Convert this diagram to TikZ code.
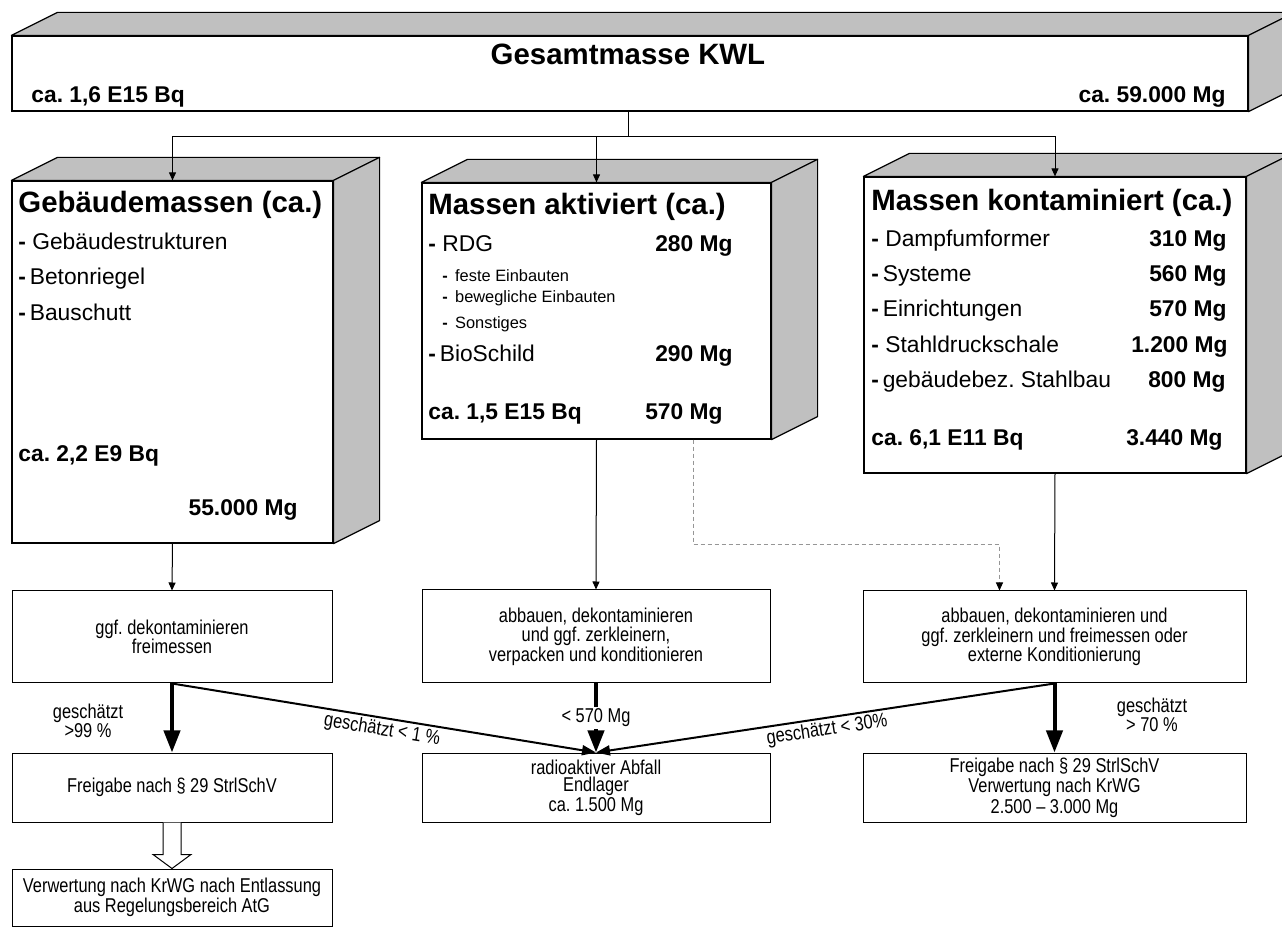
\documentclass[tikz,border=0pt]{standalone}
\usepackage{fontspec}
\setmainfont{Liberation Sans}
\newfontfamily\narrowfont[FakeStretch=0.82, Ligatures=TeX]{Liberation Sans}
\usepackage{tikz}
\usetikzlibrary{arrows.meta, positioning, fit, calc}
\definecolor{facegray}{RGB}{192,192,192}
\definecolor{dashgray}{RGB}{150,150,150}
\frenchspacing

% top and right face of a block whose front face is node #1
\newcommand{\blockfaces}[1]{%
  \draw[side] (#1.north west) -- ++(46,-23) -- ([shift={(46,-23)}]#1.north east)
    -- (#1.north east) -- cycle;
  \draw[side] (#1.north east) -- ++(46,-23) -- ([shift={(46,-23)}]#1.south east)
    -- (#1.south east) -- cycle;}

\begin{document}
\begin{tikzpicture}[
    x=0.5pt, y=-0.5pt,
    front/.style={draw, fill=white, inner sep=0pt, line width=0.6pt},
    side/.style={draw, fill=facegray, line width=0.6pt, line join=round},
    ttl/.style={font=\fontsize{14.7}{17}\selectfont\bfseries, inner sep=0pt, anchor=base west},
    itm/.style={font=\fontsize{11.4}{13}\selectfont, inner sep=0pt, anchor=base west},
    val/.style={font=\fontsize{11.4}{13}\selectfont\bfseries, inner sep=0pt, anchor=base east},
    subitm/.style={font=\fontsize{8.2}{10}\selectfont, inner sep=0pt, anchor=base west},
    proc/.style={draw, fill=white, inner sep=0pt, line width=0.5pt, align=center,
      font=\narrowfont\fontsize{10}{9.8}\selectfont},
    lbl/.style={font=\narrowfont\fontsize{10}{9.5}\selectfont, align=center, inner sep=1pt},
    thinarr/.style={-{Triangle[length=4pt,width=3.5pt]}, line width=0.5pt},
    diagarr/.style={-{Triangle[length=7pt,width=5pt]}, line width=1pt},
    heavyarr/.style={-{Triangle[length=11pt,width=8pt]}, line width=2pt},
    dasharr/.style={-{Triangle[length=4pt,width=3.5pt,black]}, draw=dashgray,
      line width=0.5pt, dash pattern=on 2pt off 1.5pt}
  ]
  \useasboundingbox (0,0) rectangle (1282,936);

  % blocks
  \node[front, fit={(12,36) (1248,111)}] (kwl) {};
  \blockfaces{kwl}
  \node[front, fit={(12,181) (333,543)}] (geb) {};
  \blockfaces{geb}
  \node[front, fit={(422,183) (771,439)}] (akt) {};
  \blockfaces{akt}
  \node[front, fit={(864,177) (1246,473)}] (kont) {};
  \blockfaces{kont}

  \node[ttl, anchor=base] (kwltitle) at (628,65) {Gesamtmasse KWL};
  \node[val, anchor=base west] (kwlbq) at (31,103) {ca. 1,6 E15 Bq};
  \node[val] (kwlmg) at (1226,103) {ca. 59.000 Mg};

  \node[ttl] (gebtitle) at (18,213) {Gebäudemassen (ca.)};
  \node[itm] (geb1) at (18,250) {\textbf{-} Gebäudestrukturen};
  \node[itm] (geb2) at (18,285) {\textbf{-}\,Betonriegel};
  \node[itm] (geb3) at (18,321) {\textbf{-}\,Bauschutt};
  \node[val, anchor=base west] (gebbq) at (18,462) {ca. 2,2 E9 Bq};
  \node[val] (gebmg) at (298,516) {55.000 Mg};

  \node[ttl] (akttitle) at (428,215) {Massen aktiviert (ca.)};
  \node[itm] (akt1) at (428,252) {\textbf{-} RDG};
  \node[val] (akt1mg) at (733,252) {280 Mg};
  \node[subitm] (akt1a) at (442,282) {\textbf{-}\, feste Einbauten};
  \node[subitm] (akt1b) at (442,303) {\textbf{-}\, bewegliche Einbauten};
  \node[subitm] (akt1c) at (442,329) {\textbf{-}\, Sonstiges};
  \node[itm] (akt2) at (428,362) {\textbf{-}\,BioSchild};
  \node[val] (akt2mg) at (733,362) {290 Mg};
  \node[val, anchor=base west] (aktbq) at (428,420) {ca. 1,5 E15 Bq};
  \node[val] (aktmg) at (723,420) {570 Mg};

  \node[ttl] (konttitle) at (871,211) {Massen kontaminiert (ca.)};
  \node[itm] (kont1) at (871,247) {\textbf{-} Dampfumformer};
  \node[val] (kont1mg) at (1227,247) {310 Mg};
  \node[itm] (kont2) at (871,282) {\textbf{-}\,Systeme};
  \node[val] (kont2mg) at (1227,282) {560 Mg};
  \node[itm] (kont3) at (871,317) {\textbf{-}\,Einrichtungen};
  \node[val] (kont3mg) at (1227,317) {570 Mg};
  \node[itm] (kont4) at (871,353) {\textbf{-} Stahldruckschale};
  \node[val] (kont4mg) at (1228,353) {1.200 Mg};
  \node[itm] (kont5) at (871,388) {\textbf{-}\,gebäudebez. Stahlbau};
  \node[val] (kont5mg) at (1226,388) {800 Mg};
  \node[val, anchor=base west] (kontbq) at (871,446) {ca. 6,1 E11 Bq};
  \node[val] (kontmg) at (1223,446) {3.440 Mg};

  % process steps
  \node[proc, minimum width=160pt, minimum height=46pt] (dek) at (172,637)
    {ggf. dekontaminieren\\freimessen};
  \node[proc, minimum width=174pt, minimum height=46.5pt] (abb) at (596,636.5)
    {abbauen, dekontaminieren\\und ggf. zerkleinern,\\verpacken und konditionieren};
  \node[proc, minimum width=191.5pt, minimum height=46pt] (ext) at (1054.5,637)
    {abbauen, dekontaminieren und\\ggf. zerkleinern und freimessen oder\\externe Konditionierung};

  \node[proc, minimum width=160pt, minimum height=34.5pt] (frei) at (172,787.5)
    {Freigabe nach § 29 StrlSchV};
  \node[proc, minimum width=174pt, minimum height=34.5pt,
    font=\narrowfont\fontsize{10}{8.5}\selectfont] (abf) at (596,787.5)
    {radioaktiver Abfall\\Endlager\\ca. 1.500 Mg};
  \node[proc, minimum width=191.5pt, minimum height=34.5pt,
    font=\narrowfont\fontsize{10}{8.2}\selectfont] (frei2) at (1054.5,787.5)
    {Freigabe nach § 29 StrlSchV\\Verwertung nach KrWG\\2.500 – 3.000 Mg};
  \node[proc, minimum width=160pt, minimum height=28.5pt,
    font=\narrowfont\fontsize{10}{9}\selectfont] (verw) at (172,897.5)
    {Verwertung nach KrWG nach Entlassung\\aus Regelungsbereich AtG};

  % connectors
  \coordinate (split) at (628,137);
  \draw[line width=0.5pt] (split |- kwl.south) -- (split);
  \draw[thinarr] (split) -| (geb.north);
  \draw[thinarr] (split) -| (akt.north);
  \draw[thinarr] (split) -| (kont.north);

  \draw[thinarr] (geb.south) -- (dek.north);
  \draw[thinarr] (akt.south) -- (abb.north);
  \draw[thinarr] (kont.south) -- (ext.north);
  \draw[dasharr] ([xshift=48.5pt]akt.south) -- ++(0,105) -| ([xshift=-27.5pt]ext.north);

  \draw[heavyarr] (dek.south) -- (frei.north);
  \draw[heavyarr] (abb.south) -- node[lbl, fill=white] (lt570) {< 570 Mg} (abf.north);
  \draw[heavyarr] (ext.south) -- (frei2.north);
  \draw[diagarr] (dek.south) -- node[lbl, sloped, below] (lt1) {geschätzt < 1 \%} (abf.north);
  \draw[diagarr] (ext.south) -- node[lbl, sloped, below] (lt30) {geschätzt < 30\%} (abf.north);

  \node[lbl] (gt99) at (88,721) {geschätzt\\>99 \%};
  \node[lbl] (gt70) at (1152,715) {geschätzt\\> 70 \%};

  \draw[fill=white, line width=0.5pt] ([xshift=-4.5pt]frei.south)
    |- ([shift={(-9.5pt,7pt)}]verw.north) -- (verw.north)
    -- ([shift={(9.5pt,7pt)}]verw.north) -| ([xshift=4.5pt]frei.south);
\end{tikzpicture}
\end{document}
